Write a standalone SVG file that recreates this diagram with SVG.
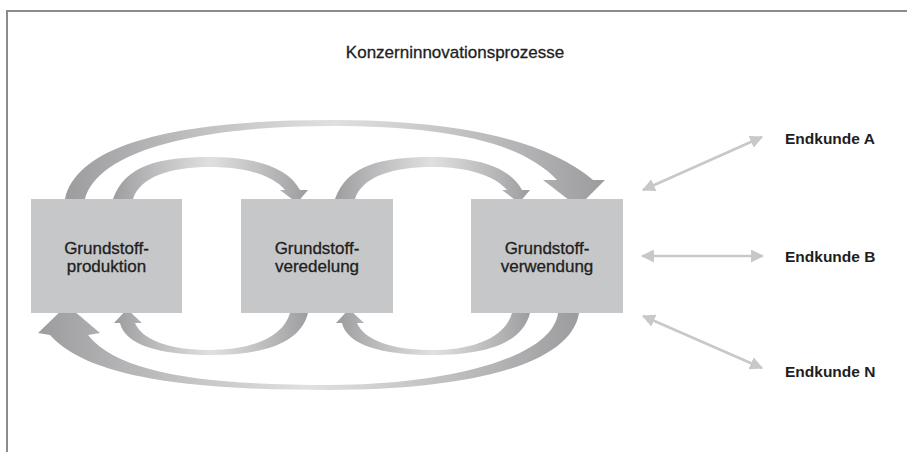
<svg xmlns="http://www.w3.org/2000/svg" width="907" height="452" viewBox="0 0 907 452">
<defs>
<linearGradient id="g" x1="0" y1="0" x2="1" y2="0">
<stop offset="0" stop-color="#9c9c9e"/>
<stop offset="0.15" stop-color="#b3b3b5"/>
<stop offset="0.5" stop-color="#e0e0e1"/>
<stop offset="0.85" stop-color="#b3b3b5"/>
<stop offset="1" stop-color="#9c9c9e"/>
</linearGradient>
<marker id="ah" viewBox="0 0 12 12" refX="11" refY="6" markerWidth="13" markerHeight="13" markerUnits="userSpaceOnUse" orient="auto-start-reverse">
<path d="M0,0 L12,6 L0,12 Z" fill="#c8c8c9"/>
</marker>
<style>
.box{fill:#c6c7c8}
.bt{font-family:"Liberation Sans",Arial,sans-serif;font-size:17px;fill:#1e1e1e;stroke:#1e1e1e;stroke-width:0.3;text-anchor:middle}
.lab{font-family:"Liberation Sans",Arial,sans-serif;font-size:15.5px;font-weight:bold;fill:#1e1e1e}
.title{font-family:"Liberation Sans",Arial,sans-serif;font-size:17px;fill:#1e1e1e;stroke:#1e1e1e;stroke-width:0.3;text-anchor:middle}
.fat{fill:url(#g)}
.thin{stroke:#c8c8c9;stroke-width:2.6;fill:none;marker-start:url(#ah);marker-end:url(#ah)}
.frame{stroke:#8c8c8c;stroke-width:2;fill:none}
</style>
</defs>
<rect width="907" height="452" fill="#ffffff"/>
<path class="frame" d="M907,11 L7,11 L7,452"/>
<text class="title" x="455" y="58">Konzerninnovationsprozesse</text>
<g id="connectors">
<path class="fat" d="M64,204 L65,199 C78,140 190,120 330,120 C440,120 540,135 593,180 L605,180 L578,207 L543,180 L557,180 C520,140 440,126 330,126 C200,126 98,150 85,199 L84,204 Z"/>
<path class="fat" d="M112,204 L113,199 C125,165 160,157 210,157 C250,157 287,165 300,190 L308,190 L297,203 L280,190 L285,190 C272,175 245,167 210,167 C170,167 140,177 133,199 L132,204 Z"/>
<path class="fat" transform="translate(222,0)" d="M112,204 L113,199 C125,165 160,157 210,157 C250,157 287,165 300,190 L308,190 L297,203 L280,190 L285,190 C272,175 245,167 210,167 C170,167 140,177 133,199 L132,204 Z"/>
<path class="fat" d="M309,308 L308,313 C300,345 260,355 210,355 C160,355 125,345 120,323 L114,323 L127,309 L142,323 L135,323 C142,340 170,350 210,350 C250,350 283,338 290,313 L291,308 Z"/>
<path class="fat" transform="translate(222,0)" d="M309,308 L308,313 C300,345 260,355 210,355 C160,355 125,345 120,323 L114,323 L127,309 L142,323 L135,323 C142,340 170,350 210,350 C250,350 283,338 290,313 L291,308 Z"/>
<path class="fat" d="M580,308 L579,313 C570,370 450,390 330,390 C200,390 90,380 50,335 L38,333 L67,305 L100,333 L88,335 C120,375 210,385 330,385 C440,385 552,360 558,313 L559,308 Z"/>
<line class="thin" x1="643" y1="190" x2="762" y2="137"/>
<line class="thin" x1="642" y1="256" x2="763" y2="256"/>
<line class="thin" x1="643" y1="316" x2="762" y2="368"/>
</g>
<g id="n1">
<rect class="box" x="31" y="199" width="151" height="114"/>
<text class="bt" x="106.5" y="254">Grundstoff-</text>
<text class="bt" x="106.5" y="272">produktion</text>
</g>
<g id="n2">
<rect class="box" x="241" y="199" width="152" height="114"/>
<text class="bt" x="317" y="254">Grundstoff-</text>
<text class="bt" x="317" y="272">veredelung</text>
</g>
<g id="n3">
<rect class="box" x="471" y="199" width="152" height="114"/>
<text class="bt" x="547" y="254">Grundstoff-</text>
<text class="bt" x="547" y="272">verwendung</text>
</g>
<g id="eA"><text class="lab" x="785" y="144">Endkunde A</text></g>
<g id="eB"><text class="lab" x="785" y="262">Endkunde B</text></g>
<g id="eN"><text class="lab" x="785" y="377">Endkunde N</text></g>
</svg>
